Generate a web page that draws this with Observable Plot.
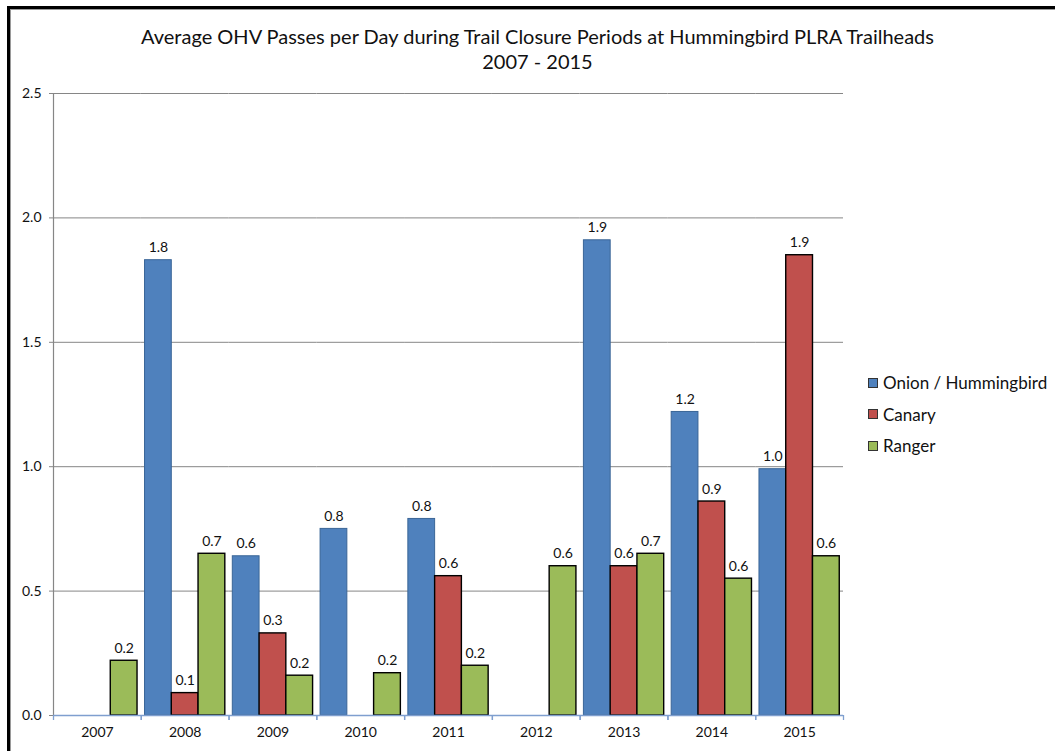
<!DOCTYPE html>
<html><head><meta charset="utf-8">
<script src="https://cdn.jsdelivr.net/npm/d3@7"></script>
<script src="https://cdn.jsdelivr.net/npm/@observablehq/plot@0.6"></script>
<style>
body{margin:0;background:#fff;font-family:Lato,"Open Sans",sans-serif;}
#page{position:relative;width:1055px;height:751px;overflow:hidden;background:#fff}
#frame{position:absolute;left:7px;top:6px;width:1100px;height:800px;border:3px solid #000;box-sizing:border-box;box-shadow:inset 1px 1px 0 #9a9a9a;}
#title{position:absolute;left:0;width:1075px;top:24px;text-align:center;font-size:20px;line-height:25px;color:#111}
#chart{position:absolute;left:0;top:80px}
#legend{position:absolute;left:868px;top:367px;font-size:17px;color:#111}
.item{height:31.5px;display:flex;align-items:center}
.sw{width:8px;height:8px;margin-right:5px;border:1px solid #333}
</style></head><body>
<div id="page">
<div id="frame"></div>
<div id="title">Average OHV Passes per Day during Trail Closure Periods at Hummingbird PLRA Trailheads<br>2007 - 2015</div>
<div id="chart"></div>
<div id="legend"></div>
</div>
<script>
const years = ["2007","2008","2009","2010","2011","2012","2013","2014","2015"];
const series = ["Onion / Hummingbird","Canary","Ranger"];
const onion  = [null, 1.83, 0.64, 0.75, 0.79, null, 1.91, 1.22, 0.99];
const canary = [null, 0.09, 0.33, null, 0.56, null, 0.60, 0.86, 1.85];
const ranger = [0.22, 0.65, 0.16, 0.17, 0.20, 0.60, 0.65, 0.55, 0.64];
const colors = ["#4f81bd","#c0504d","#9bbb59"];
const strokes = ["#3a6597","#000000","#000000"];
const yTicks = [0, 0.5, 1.0, 1.5, 2.0, 2.5];

const rows = [];
years.forEach((yr, i) => {
  [onion, canary, ranger].forEach((arr, j) => {
    if (arr[i] != null) rows.push({year: yr, series: series[j], value: arr[i]});
  });
});

const W = 1055, H = 671, mL = 53, mR = 212, mT = 13, mB = 36;
const po = 0.14;
const fw = (W - mL - mR) / years.length;
const step = fw / (series.length + 2 * po);
const edge = step * (po + 0.5);
const yearRows = years.map(y => ({year: y}));

const chart = Plot.plot({
  width: W, height: H,
  marginLeft: mL, marginRight: mR, marginTop: mT, marginBottom: mB,
  style: {fontFamily: "Lato, 'Open Sans', sans-serif", fontSize: "14px", color: "#111", background: "transparent"},
  fx: {domain: years, padding: 0, round: false, axis: "bottom", tickSize: 0, tickPadding: 12, label: null, fontSize: 14},
  x: {domain: series, paddingInner: 0, paddingOuter: po, round: false, axis: null},
  y: {domain: [0, 2.5], axis: null},
  color: {domain: series, range: colors},
  marks: [
    Plot.gridY(yTicks, {stroke: "#868686", strokeOpacity: 1, strokeWidth: 1}),
    Plot.axisY(yTicks, {tickFormat: d => d.toFixed(1), tickSize: 4, tickPadding: 8, stroke: "#868686", fontSize: 14, label: null}),
    Plot.ruleX(yearRows.filter(d => d.year === years[0]), {fx: "year", x: () => series[0], dx: -edge, stroke: "#868686", strokeWidth: 1.2}),
    Plot.barY(rows.filter(d => d.series === series[0]), {fx: "year", x: "series", y: "value", fill: "series", stroke: strokes[0], strokeWidth: 1}),
    Plot.barY(rows.filter(d => d.series !== series[0]), {fx: "year", x: "series", y: "value", fill: "series", stroke: "#000", strokeWidth: 1.4}),
    Plot.ruleY([0], {stroke: "#7f9fcf", strokeWidth: 1.5}),
    Plot.ruleX(yearRows, {fx: "year", x: () => series[0], y1: 0, y2: 0, insetBottom: -5, dx: -edge, stroke: "#7f9fcf", strokeWidth: 1.3}),
    Plot.ruleX(yearRows, {fx: "year", x: () => series[2], y1: 0, y2: 0, insetBottom: -5, dx: edge, stroke: "#7f9fcf", strokeWidth: 1.3}),
    Plot.text(rows, {fx: "year", x: "series", y: "value", text: d => d.value.toFixed(1), lineAnchor: "bottom", dy: -8, fontSize: 14, fill: "#111"})
  ]
});
document.getElementById("chart").appendChild(chart);

const legend = document.getElementById("legend");
series.forEach((s, i) => {
  const item = document.createElement("div");
  item.className = "item";
  const sw = document.createElement("span");
  sw.className = "sw";
  sw.style.background = colors[i];
  const t = document.createElement("span");
  t.textContent = s;
  item.appendChild(sw); item.appendChild(t);
  legend.appendChild(item);
});
</script>
</body></html>
